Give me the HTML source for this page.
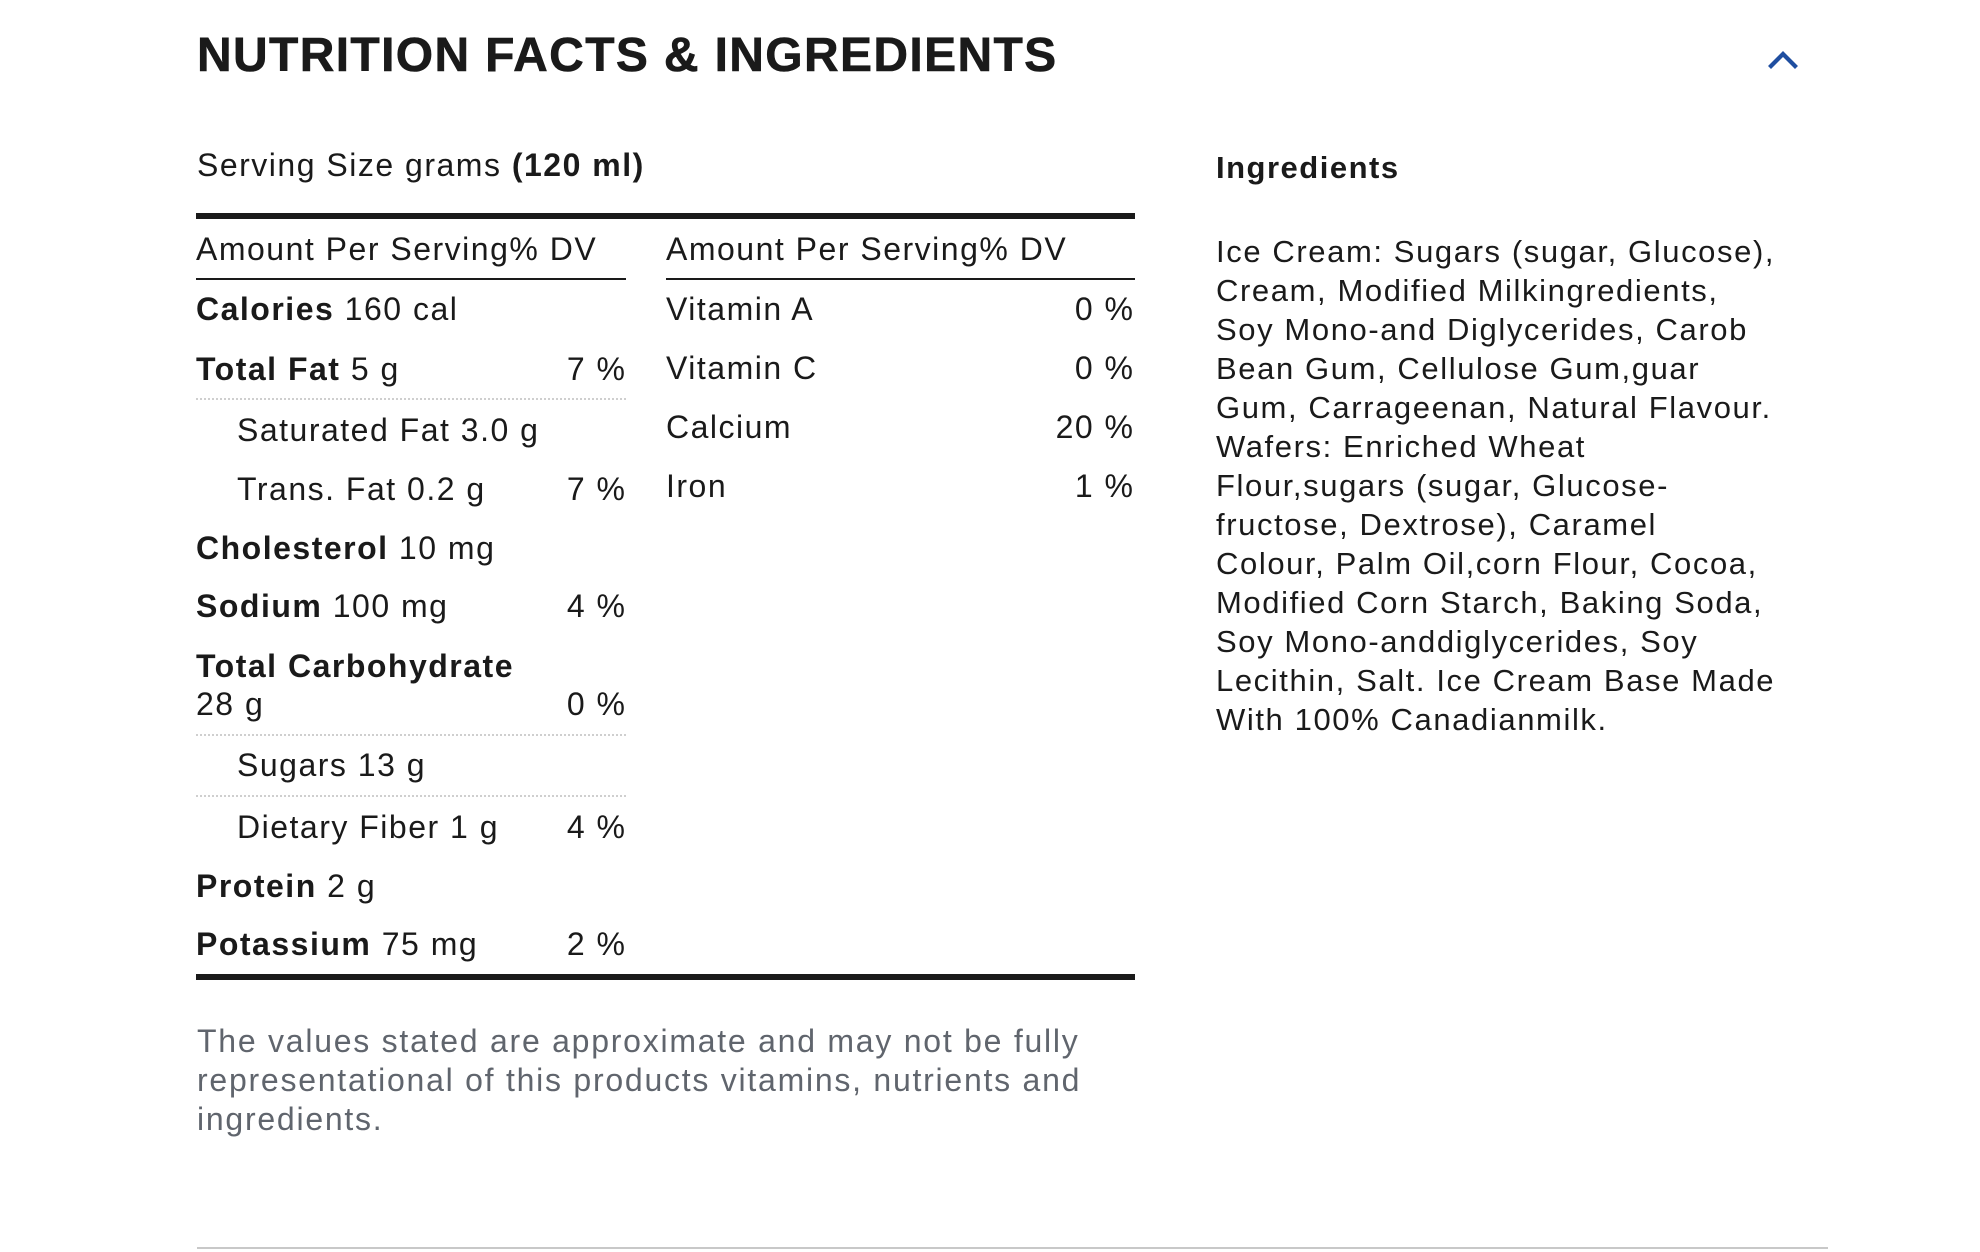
<!DOCTYPE html>
<html>
<head>
<meta charset="utf-8">
<style>
  html,body{margin:0;padding:0;background:#fff;}
  body{width:1980px;height:1252px;position:relative;overflow:hidden;}
  .t{position:absolute;white-space:nowrap;font-family:"Liberation Sans",Arial,sans-serif;color:#1a1a1a;}
  .title{font-size:48px;line-height:56px;font-weight:bold;letter-spacing:1.35px;-webkit-text-stroke:0.6px #1a1a1a;}
  .b32{font-size:32px;line-height:40px;letter-spacing:1.5px;}
  .b{font-weight:bold;}
  .r{text-align:right;}
  .ing{font-size:31px;line-height:39px;letter-spacing:1.6px;}
  .foot{font-size:32px;line-height:39px;letter-spacing:1.75px;color:#60656d;}
  .bar{position:absolute;background:#1a1a1a;}
  .dot{position:absolute;border-top:2px dotted #cfcfcf;height:0;}
</style>
</head>
<body>

<div class="t title" style="left:197px;top:27.7px;">NUTRITION FACTS &amp; INGREDIENTS</div>

<svg style="position:absolute;left:1760px;top:44px;" width="46" height="32" viewBox="0 0 46 32">
  <polyline points="11,22 23,10 35,22" fill="none" stroke="#1f4ea0" stroke-width="4.2" stroke-linecap="square" stroke-linejoin="miter"/>
</svg>

<div class="t b32" style="left:197px;top:144.6px;">Serving Size grams <span class="b">(120 ml)</span></div>

<!-- table bars -->
<div class="bar" style="left:196px;top:213px;width:939px;height:6px;"></div>
<div class="bar" style="left:196px;top:974px;width:939px;height:6px;"></div>
<div class="bar" style="left:196px;top:278px;width:430px;height:2px;"></div>
<div class="bar" style="left:666px;top:278px;width:469px;height:2px;"></div>

<div class="dot" style="left:196px;top:398px;width:430px;"></div>
<div class="dot" style="left:196px;top:734px;width:430px;"></div>
<div class="dot" style="left:196px;top:795px;width:430px;"></div>

<!-- left column -->
<div class="t b32" style="left:196px;top:229px;">Amount Per Serving% DV</div>
<div class="t b32" style="left:196px;top:289px;"><span class="b">Calories</span> 160 cal</div>
<div class="t b32" style="left:196px;top:349px;"><span class="b">Total Fat</span> 5 g</div>
<div class="t b32 r" style="right:1353.5px;top:349px;">7 %</div>
<div class="t b32" style="left:237px;top:409.6px;">Saturated Fat 3.0 g</div>
<div class="t b32" style="left:237px;top:469px;">Trans. Fat 0.2 g</div>
<div class="t b32 r" style="right:1353.5px;top:469px;">7 %</div>
<div class="t b32" style="left:196px;top:528.2px;"><span class="b">Cholesterol</span> 10 mg</div>
<div class="t b32" style="left:196px;top:586.2px;"><span class="b">Sodium</span> 100 mg</div>
<div class="t b32 r" style="right:1353.5px;top:586.2px;">4 %</div>
<div class="t b32 b" style="left:196px;top:645.6px;">Total Carbohydrate</div>
<div class="t b32" style="left:196px;top:684.2px;">28 g</div>
<div class="t b32 r" style="right:1353.5px;top:684.2px;">0 %</div>
<div class="t b32" style="left:237px;top:745px;">Sugars 13 g</div>
<div class="t b32" style="left:237px;top:807.2px;">Dietary Fiber 1 g</div>
<div class="t b32 r" style="right:1353.5px;top:807.2px;">4 %</div>
<div class="t b32" style="left:196px;top:865.6px;"><span class="b">Protein</span> 2 g</div>
<div class="t b32" style="left:196px;top:924px;"><span class="b">Potassium</span> 75 mg</div>
<div class="t b32 r" style="right:1353.5px;top:924px;">2 %</div>

<!-- right column -->
<div class="t b32" style="left:666px;top:229px;">Amount Per Serving% DV</div>
<div class="t b32" style="left:666px;top:289px;">Vitamin A</div>
<div class="t b32 r" style="right:845.5px;top:289px;">0 %</div>
<div class="t b32" style="left:666px;top:348px;">Vitamin C</div>
<div class="t b32 r" style="right:845.5px;top:348px;">0 %</div>
<div class="t b32" style="left:666px;top:407px;">Calcium</div>
<div class="t b32 r" style="right:845.5px;top:407px;">20 %</div>
<div class="t b32" style="left:666px;top:466px;">Iron</div>
<div class="t b32 r" style="right:845.5px;top:466px;">1 %</div>

<!-- ingredients -->
<div class="t ing b" style="left:1216px;top:148px;letter-spacing:1.5px;">Ingredients</div>
<div class="t ing" style="left:1216px;top:231.5px;">
Ice Cream: Sugars (sugar, Glucose),<br>
Cream, Modified Milkingredients,<br>
Soy Mono-and Diglycerides, Carob<br>
Bean Gum, Cellulose Gum,guar<br>
Gum, Carrageenan, Natural Flavour.<br>
Wafers: Enriched Wheat<br>
Flour,sugars (sugar, Glucose-<br>
fructose, Dextrose), Caramel<br>
Colour, Palm Oil,corn Flour, Cocoa,<br>
Modified Corn Starch, Baking Soda,<br>
Soy Mono-anddiglycerides, Soy<br>
Lecithin, Salt. Ice Cream Base Made<br>
With 100% Canadianmilk.
</div>

<!-- footer -->
<div class="t foot" style="left:197px;top:1021.7px;">
The values stated are approximate and may not be fully<br>
representational of this products vitamins, nutrients and<br>
ingredients.
</div>

<div style="position:absolute;left:197px;top:1247px;width:1631px;height:2px;background:#c8c8c8;"></div>

</body>
</html>
